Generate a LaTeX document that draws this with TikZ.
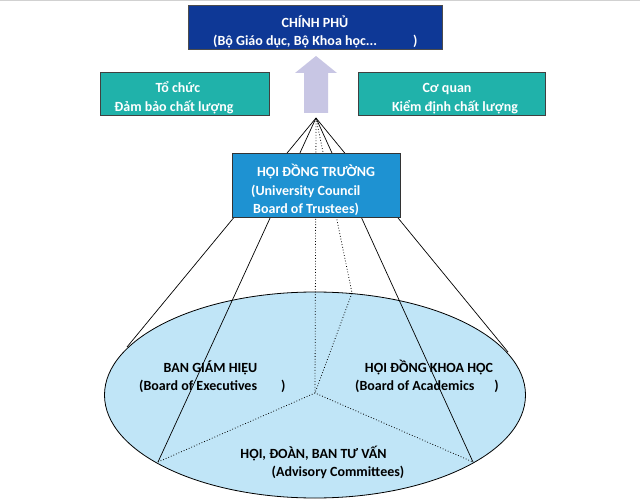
\documentclass[tikz,border=0pt]{standalone}
\usepackage{fontspec}
\setmainfont{Carlito}
\usetikzlibrary{shapes.geometric}
\definecolor{govblue}{RGB}{14,56,150}
\definecolor{tealbox}{RGB}{32,178,170}
\definecolor{councilblue}{RGB}{30,146,210}
\definecolor{ellfill}{RGB}{192,229,247}
\definecolor{arrowlav}{RGB}{200,198,228}
\tikzset{
  txt/.style={font=\fontsize{14}{18}\selectfont\bfseries, inner sep=0pt},
  wtxt/.style={txt, text=white},
  btxt/.style={txt, text=black},
  conn/.style={draw=black, line width=0.7pt},
  dotconn/.style={draw=black, line width=0.8pt, dotted},
}
\begin{document}
\begin{tikzpicture}[x=1pt,y=-1pt]
\useasboundingbox (0,0) rectangle (640,500);
\fill[white] (0,0) rectangle (640,500);
\fill[black!18] (0,0) rectangle (640,1.5);

% top box
\node[draw=black!70, fill=govblue, minimum width=254pt, minimum height=44pt, inner sep=0pt] (gov) at (315,27) {};
\node[wtxt, anchor=base] (govt1) at (315,28) {CHÍNH PHỦ};
\node[wtxt, anchor=base west] (govt2) at (213,46) {(Bộ Giáo dục, Bộ Khoa học...\hspace{36pt})};

% side boxes
\node[draw=black!75, fill=tealbox, minimum width=169pt, minimum height=43pt, inner sep=0pt, line width=0.8pt] (qa) at (184.5,93.5) {};
\node[wtxt, anchor=base] (qat1) at (178,93) {Tổ chức};
\node[wtxt, anchor=base] (qat2) at (174,112) {Đảm bảo chất lượng};
\node[draw=black!75, fill=tealbox, minimum width=187pt, minimum height=43pt, inner sep=0pt, line width=0.8pt] (acc) at (451.5,93.5) {};
\node[wtxt, anchor=base] (acct1) at (447,93) {Cơ quan};
\node[wtxt, anchor=base] (acct2) at (455,112) {Kiểm định chất lượng};

% arrow
\fill[arrowlav] (316,56) -- (337,73) -- (328,73) -- (328,113) -- (304,113) -- (304,73) -- (295,73) -- cycle;

% ellipse
\node[draw=black, fill=ellfill, ellipse, minimum width=421pt, minimum height=206pt, inner sep=0pt, line width=0.8pt] (ell) at (315,395) {};

\coordinate (apex) at (316,118);
\coordinate (lo) at (127,347);
\coordinate (li) at (158,462);
\coordinate (ri) at (473,462);
\coordinate (ro) at (508,352);
\coordinate (ctr) at (315,393);
\coordinate (bend) at (352,293);

\draw[conn] (apex) -- (lo);
\draw[conn] (apex) -- (li);
\draw[conn] (apex) -- (ri);
\draw[conn] (apex) -- (ro);
\draw[dotconn] (apex) -- (ctr);
\draw[dotconn] (apex) -- (bend) -- (ctr);
\draw[dotconn] (li) -- (ctr) -- (ri);

% council box
\node[draw=black!80, fill=councilblue, minimum width=168pt, minimum height=64pt, inner sep=0pt, line width=0.8pt] (council) at (316,185) {};
\node[wtxt, anchor=base] (ct1) at (316,176) {HỘI ĐỒNG TRƯỜNG};
\node[wtxt, anchor=base west] (ct2) at (251,195) {(University Council};
\node[wtxt, anchor=base west] (ct3) at (253,213) {Board of Trustees)};

% ellipse texts
\node[btxt, anchor=base] (bgh1) at (210.5,372) {BAN GIÁM HIỆU};
\node[btxt, anchor=base west] (bgh2) at (139,390) {(Board of Executives\hspace{24pt})};
\node[btxt, anchor=base] (hdkh1) at (429,372) {HỘI ĐỒNG KHOA HỌC};
\node[btxt, anchor=base west] (hdkh2) at (355,390) {(Board of Academics\hspace{20pt})};
\node[btxt, anchor=base] (hd1) at (313.5,458) {HỘI, ĐOÀN, BAN TƯ VẤN};
\node[btxt, anchor=base] (hd2) at (338,476) {(Advisory Committees)};
\end{tikzpicture}
\end{document}
